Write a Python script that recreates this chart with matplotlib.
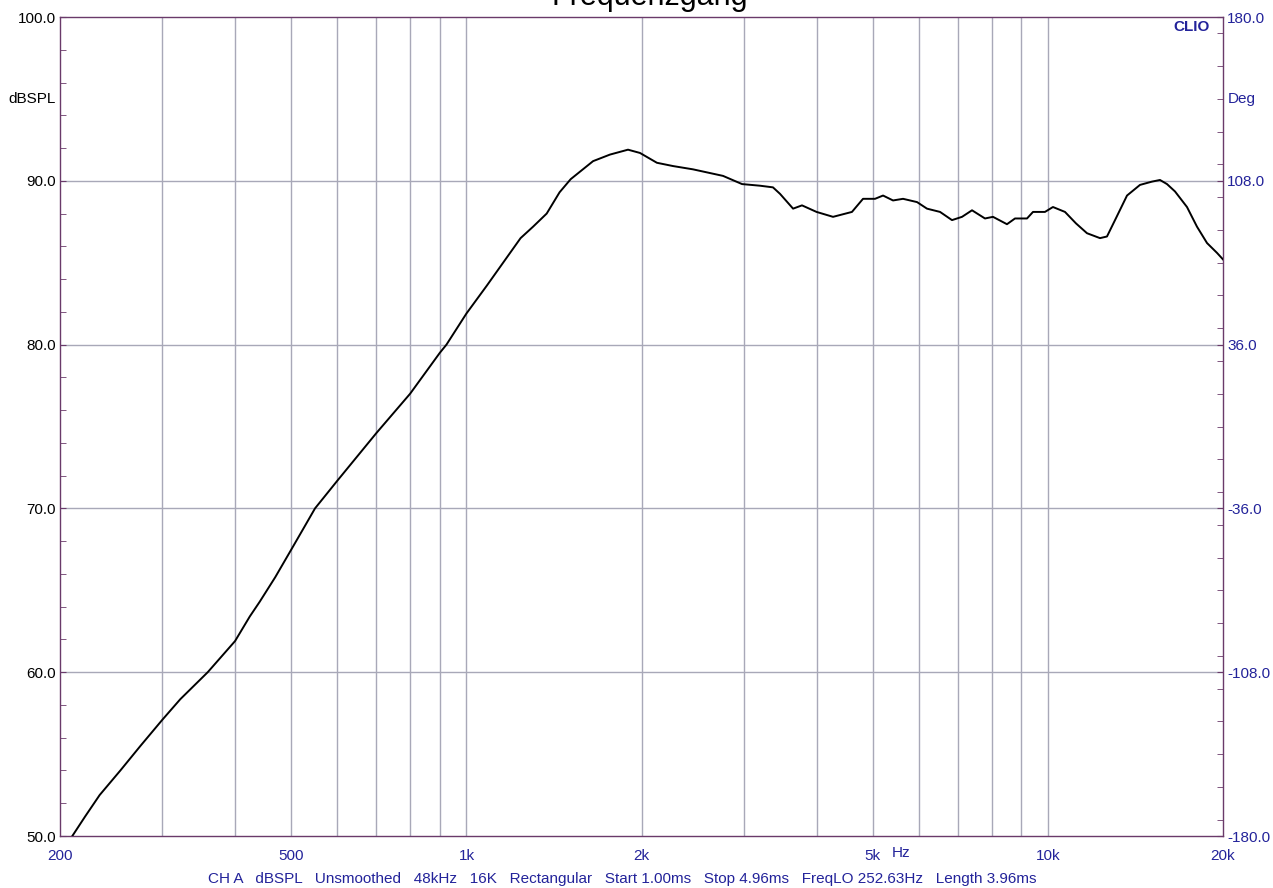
import matplotlib
matplotlib.use('Agg')
import matplotlib.pyplot as plt
from matplotlib.ticker import FixedLocator, MultipleLocator, NullFormatter

plt.rcParams['font.family'] = ['Liberation Sans', 'DejaVu Sans']

freq = [210, 221, 234, 254, 275, 300, 322, 359, 400, 424, 441, 469, 500, 523, 549,
        600, 700, 800, 900, 924,
        1000, 1084, 1239, 1302, 1374, 1446, 1511, 1651, 1765, 1896, 1988, 2126, 2266,
        2452, 2762, 2978, 3198, 3366, 3462, 3645, 3776, 4000, 4270, 4602, 4808,
        5042, 5205, 5415, 5634, 5955, 6194, 6523, 6839, 7116, 7403, 7793, 8044,
        8502, 8777, 9204, 9425, 9882, 10200, 10698, 11174, 11672, 12289, 12633,
        13042, 13676, 14398, 15098, 15584, 16022, 16538, 17342, 18042, 18774,
        19530, 20000]
spl = [50.0, 51.2, 52.5, 54.0, 55.5, 57.1, 58.35, 60.0, 61.9, 63.4, 64.3, 65.8, 67.5, 68.7, 70.0,
       71.7, 74.6, 77.0, 79.5, 80.0,
       81.9, 83.6, 86.5, 87.2, 88.0, 89.3, 90.1, 91.2, 91.6, 91.9, 91.7, 91.1, 90.9,
       90.7, 90.3, 89.8, 89.7, 89.6, 89.2, 88.3, 88.5, 88.1, 87.8, 88.1, 88.9,
       88.9, 89.1, 88.8, 88.9, 88.7, 88.3, 88.1, 87.6, 87.8, 88.2, 87.7, 87.8,
       87.35, 87.7, 87.7, 88.1, 88.1, 88.4, 88.1, 87.4, 86.8, 86.5, 86.6,
       87.6, 89.1, 89.75, 89.95, 90.05, 89.8, 89.35, 88.4, 87.2, 86.2,
       85.6, 85.2]

xgrid = [300, 400, 500, 600, 700, 800, 900, 1000, 2000, 3000, 4000, 5000,
         6000, 7000, 8000, 9000, 10000]
xticks = [200, 500, 1000, 2000, 5000, 10000, 20000]
xlabels = ['200', '500', '1k', '2k', '5k', '10k', '20k']
ygrid = [60, 70, 80, 90]
yticks = [50, 60, 70, 80, 90, 100]
degticks = [-180, -108, -36, 36, 108, 180]

blue = '#23239a'
spine_col = '#6a3a6a'
grid_col = '#a8a8b8'
fs = 11

fig = plt.figure(figsize=(12.73, 8.88), dpi=100)
ax = fig.add_axes([60/1273, 52/888, 1163/1273, 819/888])

ax.set_xscale('log')
ax.set_xlim(200, 20000)
ax.set_ylim(50, 100)

for f in xgrid:
    ax.axvline(f, color=grid_col, lw=1, zorder=1)
for y in ygrid:
    ax.axhline(y, color=grid_col, lw=1, zorder=1)

ax.plot(freq, spl, color='black', lw=1.4, zorder=3)

ax.xaxis.set_major_locator(FixedLocator(xticks))
ax.xaxis.set_minor_locator(FixedLocator([]))
ax.xaxis.set_minor_formatter(NullFormatter())
ax.set_xticklabels(xlabels)
ax.tick_params(axis='x', length=0, pad=9, labelsize=fs, labelcolor=blue)

ax.set_yticks(yticks)
ax.set_yticklabels(['%.1f' % v for v in yticks])
ax.yaxis.set_minor_locator(MultipleLocator(2))
ax.tick_params(axis='y', which='both', direction='in', length=4, color=spine_col,
               labelsize=fs, labelcolor='black', pad=3)

for s in ax.spines.values():
    s.set_color(spine_col)
    s.set_linestyle((0, (2, 1)))
    s.set_linewidth(1)

ax2 = ax.twinx()
ax2.set_ylim(-180, 180)
ax2.set_yticks(degticks)
ax2.set_yticklabels(['%.1f' % v for v in degticks])
ax2.yaxis.set_minor_locator(MultipleLocator(14.4))
ax2.tick_params(axis='y', which='both', direction='in', length=4, color=spine_col,
                labelsize=fs, labelcolor=blue, pad=3)
for s in ax2.spines.values():
    s.set_visible(False)

fig.text(650/1273, 1 - 5/888, 'Frequenzgang', fontsize=22, ha='center', va='baseline')
fig.text(56/1273, 1 - 99/888, 'dBSPL', fontsize=fs, ha='right', va='center')
fig.text(1228/1273, 1 - 99/888, 'Deg', fontsize=fs, ha='left', va='center', color=blue)
fig.text(1210/1273, 1 - 27/888, 'CLIO', fontsize=fs, ha='right', va='center',
         color=blue, fontweight='bold')
fig.text(892/1273, 1 - 853/888, 'Hz', fontsize=fs, ha='left', va='center', color=blue)
fig.text(208/1273, 1 - 879/888,
         'CH A   dBSPL   Unsmoothed   48kHz   16K   Rectangular   Start 1.00ms   '
         'Stop 4.96ms   FreqLO 252.63Hz   Length 3.96ms',
         fontsize=fs, ha='left', va='center', color=blue)

fig.savefig('out.png', dpi=100)
